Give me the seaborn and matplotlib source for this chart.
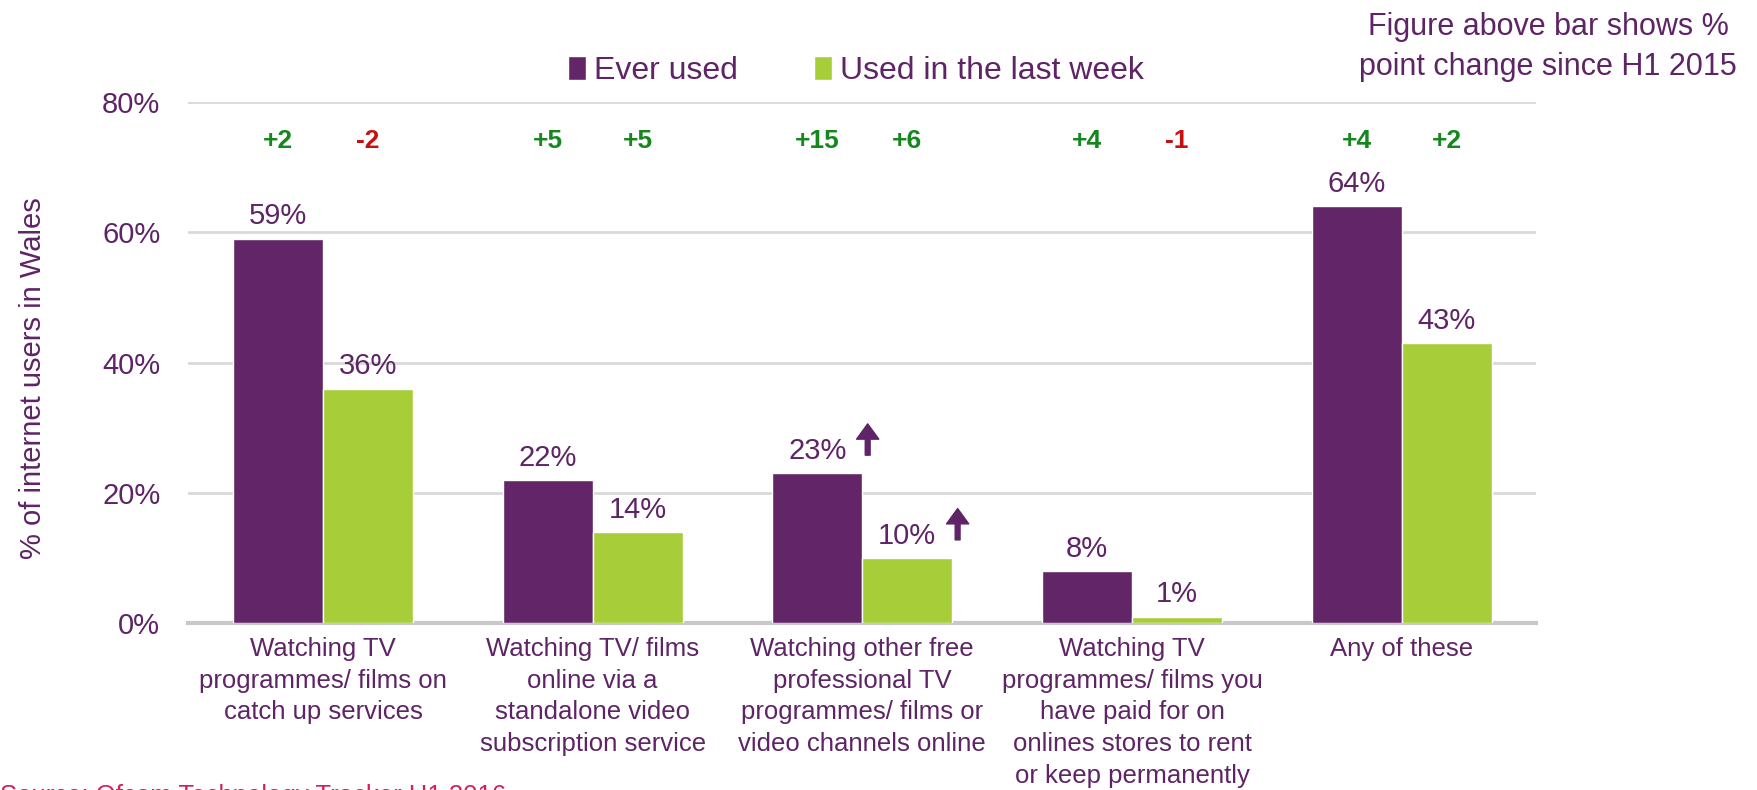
import matplotlib
matplotlib.use('Agg')
import matplotlib.pyplot as plt
import seaborn as sns
import pandas as pd

categories = [
    "Watching TV\nprogrammes/ films on\ncatch up services",
    "Watching TV/ films\nonline via a\nstandalone video\nsubscription service",
    "Watching other free\nprofessional TV\nprogrammes/ films or\nvideo channels online",
    "Watching TV\nprogrammes/ films you\nhave paid for on\nonlines stores to rent\nor keep permanently",
    "Any of these",
]
series = ["Ever used", "Used in the last week"]
ever_used = [59, 22, 23, 8, 64]
last_week = [36, 14, 10, 1, 43]
ever_change = ["+2", "+5", "+15", "+4", "+4"]
week_change = ["-2", "+5", "+6", "-1", "+2"]
ever_up = [False, False, True, False, False]
week_up = [False, False, True, False, False]

PURPLE = "#622567"
GREEN = "#A7CE39"
TEXT = "#5E2466"
POS = "#16871F"
NEG = "#C70F0F"

df = pd.DataFrame({
    "Category": categories * 2,
    "Series": [series[0]] * len(categories) + [series[1]] * len(categories),
    "Value": ever_used + last_week,
})

sns.set_theme(style="white")
plt.rcParams['font.family'] = ['Liberation Sans', 'DejaVu Sans']

fig = plt.figure(figsize=(17.58, 7.9), dpi=100)
ax = fig.add_axes([0.107, 0.211, 0.767, 0.66])

sns.barplot(df, x="Category", y="Value", hue="Series", palette=[PURPLE, GREEN],
            width=0.667, saturation=1, ax=ax, legend=True, zorder=3)

ax.set_ylim(0, 80)
ax.set_xlim(-0.5, 4.5)
ax.set_yticks([0, 20, 40, 60, 80])
ax.set_yticklabels([f"{v}%" for v in [0, 20, 40, 60, 80]])
ax.yaxis.grid(True, color="#D9D9D9", linewidth=2, zorder=0)
ax.set_axisbelow(True)
for s in ["top", "right", "left"]:
    ax.spines[s].set_visible(False)
ax.spines["bottom"].set_color("#C8C8C8")
ax.spines["bottom"].set_linewidth(3)
ax.tick_params(axis="y", length=0, pad=20, labelsize=21, labelcolor=TEXT)
ax.tick_params(axis="x", length=0, pad=10, labelsize=18.5, labelcolor=TEXT)
for lbl in ax.get_xticklabels():
    lbl.set_verticalalignment("top")
    lbl.set_linespacing(1.4)
ax.set_xlabel("")
ax.set_ylabel("% of internet users in Wales", fontsize=21, color=TEXT)
ax.yaxis.set_label_coords(-0.105, 0.47)

changes = [ever_change, week_change]
ups = [ever_up, week_up]
for cont, chg, up in zip(ax.containers, changes, ups):
    ax.bar_label(cont, labels=[f"{int(b.get_height())}%" for b in cont],
                 padding=6, fontsize=21, color=TEXT)
    for bar, c, u in zip(cont, chg, up):
        cx = bar.get_x() + bar.get_width() / 2
        ax.text(cx, 74, c, ha="center", va="center", fontsize=19, fontweight="bold",
                color=NEG if c.startswith("-") else POS)
        if u:
            xa = bar.get_x() + bar.get_width() + 0.02
            v = bar.get_height()
            ax.annotate("", xy=(xa, v + 7.6), xytext=(xa, v + 2.8),
                        arrowprops=dict(facecolor=TEXT, edgecolor=TEXT, width=3.5,
                                        headwidth=16, headlength=11))

handles, labels = ax.get_legend_handles_labels()
ax.legend(handles, labels, loc="center", bbox_to_anchor=(0.487, 0.91),
          bbox_transform=fig.transFigure, ncol=2, frameon=False, fontsize=23,
          labelcolor=TEXT, handlelength=0.55, handleheight=0.75,
          handletextpad=0.25, columnspacing=2.4)

fig.text(0.988, 0.985, "Figure above bar shows %\npoint change since H1 2015",
         ha="right", va="top", fontsize=22, color=TEXT, multialignment="center",
         linespacing=1.45)
fig.text(0.0, 0.007, "Source: Ofcom Technology Tracker H1 2016", ha="left", va="top",
         fontsize=18.5, color="#D0215A")

plt.savefig("out.png", dpi=100)
plt.close()
